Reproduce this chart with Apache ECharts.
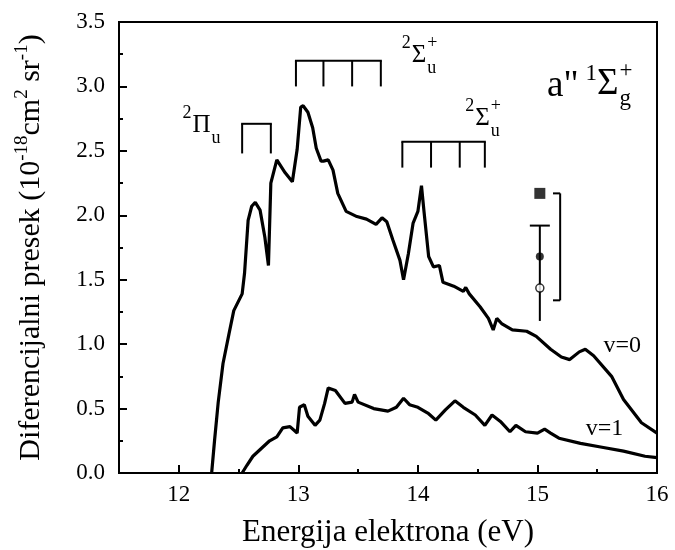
<!DOCTYPE html>
<html>
<head>
<meta charset="utf-8">
<script src="https://cdn.jsdelivr.net/npm/echarts@6/dist/echarts.min.js"></script>
<style>
html, body { margin: 0; background: #fff; }
#main { width: 675px; height: 550px; }
</style>
</head>
<body>
<div id="main"></div>
<script>
// v=0 and v=1 curves, [energy eV, cross section]
var v0 = [[12.275,0],[12.30,0.26],[12.33,0.55],[12.37,0.85],[12.42,1.08],[12.46,1.26],[12.53,1.39],
    [12.55,1.55],[12.58,1.96],[12.61,2.07],[12.64,2.10],[12.68,2.04],[12.72,1.83],[12.75,1.61],
    [12.77,2.25],[12.82,2.43],[12.89,2.33],[12.95,2.26],[12.99,2.51],[13.02,2.84],[13.04,2.85],
    [13.08,2.80],[13.12,2.68],[13.15,2.52],[13.19,2.42],[13.21,2.42],[13.25,2.43],[13.29,2.35],
    [13.33,2.17],[13.40,2.03],[13.49,1.99],[13.57,1.97],[13.65,1.93],[13.70,1.98],[13.74,1.95],
    [13.79,1.81],[13.85,1.65],[13.88,1.50],[13.92,1.70],[13.96,1.94],[14.00,2.03],[14.03,2.23],
    [14.05,2.04],[14.09,1.68],[14.13,1.60],[14.18,1.61],[14.21,1.48],[14.30,1.45],[14.38,1.41],
    [14.40,1.44],[14.43,1.39],[14.52,1.29],[14.59,1.20],[14.63,1.11],[14.66,1.20],[14.70,1.16],
    [14.79,1.11],[14.91,1.10],[14.99,1.06],[15.11,0.96],[15.20,0.90],[15.27,0.88],[15.35,0.94],
    [15.40,0.96],[15.47,0.91],[15.62,0.75],[15.72,0.57],[15.87,0.39],[16.00,0.31]];
var v1 = [[12.53,0],[12.57,0.06],[12.62,0.13],[12.69,0.19],[12.76,0.25],[12.82,0.28],[12.87,0.35],
    [12.93,0.36],[12.99,0.31],[13.01,0.51],[13.05,0.53],[13.08,0.44],[13.14,0.37],[13.18,0.41],
    [13.22,0.54],[13.25,0.66],[13.31,0.64],[13.39,0.54],[13.45,0.55],[13.47,0.61],[13.50,0.55],
    [13.63,0.50],[13.75,0.48],[13.82,0.51],[13.88,0.58],[13.93,0.53],[14.00,0.51],[14.09,0.46],
    [14.15,0.41],[14.23,0.49],[14.31,0.56],[14.38,0.51],[14.48,0.45],[14.56,0.37],[14.62,0.45],
    [14.69,0.40],[14.77,0.32],[14.82,0.37],[14.90,0.32],[15.00,0.31],[15.06,0.34],[15.11,0.31],
    [15.18,0.27],[15.36,0.23],[15.54,0.20],[15.72,0.17],[15.90,0.13],[16.00,0.12]];

var xMajor = [12, 13, 14, 15, 16];
var xMinor = [12.5, 13.5, 14.5, 15.5];

// progression brackets
var bracketTicks = [[12.53, 12.77], [12.98, 13.21, 13.45, 13.69], [13.87, 14.11, 14.35, 14.56]];
var bracketTop = [2.71, 3.20, 2.57];
var bracketBottom = [2.48, 3.00, 2.37];

// resonance term labels
var termX = [12.19, 14.01, 14.54];
var termY = [2.70, 3.24, 2.75];
var termSym = ['Π', 'Σ', 'Σ'];
var termSup = ['', '+', '+'];

// error bar and normalisation points
var errX = [15.02];
var errHi = [1.92];
var errLo = [1.18];
var squarePts = [[15.02, 2.17]];
var dotPts = [[15.02, 1.68]];
var openPts = [[15.02, 1.435]];
var rangeX = [15.13, 15.19];
var rangeY = [1.34, 2.17];

var curveNames = ['v=0', 'v=1'];
var curveLabX = [15.71, 15.56];
var curveLabY = [0.985, 0.345];

var stateX = [15.08];
var stateY = [3.02];

var FONT = '"Liberation Serif", "Times New Roman", serif';
var ctx = document.createElement('canvas').getContext('2d');
function textW(s, size) {
    ctx.font = size + 'px ' + FONT;
    return ctx.measureText(s).width;
}
function txt(x, y, s, size, align) {
    return {
        type: 'text', x: x, y: y,
        style: { text: s, fill: '#000', fontSize: size, fontFamily: FONT, align: align, verticalAlign: 'middle' }
    };
}
function seg(x1, y1, x2, y2) {
    return { type: 'line', shape: { x1: x1, y1: y1, x2: x2, y2: y2 }, style: { stroke: '#000', lineWidth: 2 } };
}

function renderBracket(params, api) {
    var i = params.dataIndex;
    var xs = bracketTicks[i];
    var top = api.coord([xs[0], bracketTop[i]])[1];
    var bot = api.coord([xs[0], bracketBottom[i]])[1];
    var px = xs.map(function(x) { return api.coord([x, 0])[0]; });
    var kids = [seg(px[0] - 1, top, px[px.length - 1] + 1, top)];
    px.forEach(function(p) { kids.push(seg(p, top, p, bot)); });
    return { type: 'group', children: kids };
}

function renderTerm(params, api) {
    var i = params.dataIndex;
    var p = api.coord([termX[i], termY[i]]);
    var w = textW(termSym[i], 25);
    var kids = [
        txt(p[0] - w / 2 - 1, p[1] - 12, '2', 18, 'right'),
        txt(p[0], p[1], termSym[i], 25, 'center'),
        txt(p[0] + w / 2 + 1, p[1] + 13, 'u', 18, 'left')
    ];
    if (termSup[i]) kids.push(txt(p[0] + w / 2 + 1, p[1] - 12, termSup[i], 18, 'left'));
    return { type: 'group', children: kids };
}

function renderState(params, api) {
    var p = api.coord([stateX[0], stateY[0]]);
    var x = p[0], y = p[1];
    var kids = [];
    kids.push(txt(x, y + 2, 'a"', 37, 'left'));
    x += textW('a"', 37) + 7;
    kids.push(txt(x, y - 10, '1', 23, 'left'));
    x += textW('1', 23);
    kids.push(txt(x, y, 'Σ', 37, 'left'));
    x += textW('Σ', 37) + 1;
    kids.push(txt(x, y - 13, '+', 23, 'left'));
    kids.push(txt(x, y + 15, 'g', 23, 'left'));
    return { type: 'group', children: kids };
}

function renderErr(params, api) {
    var top = api.coord([errX[0], errHi[0]]);
    var bot = api.coord([errX[0], errLo[0]]);
    var r0 = api.coord([rangeX[0], rangeY[1]]);
    var r1 = api.coord([rangeX[1], rangeY[0]]);
    return {
        type: 'group',
        children: [
            seg(top[0], top[1], bot[0], bot[1]),
            seg(top[0] - 10, top[1], top[0] + 10, top[1]),
            seg(r0[0], r0[1], r1[0], r0[1]),
            seg(r1[0], r0[1], r1[0], r1[1]),
            seg(r1[0], r1[1], r0[0], r1[1])
        ]
    };
}

function renderCurveLab(params, api) {
    var i = params.dataIndex;
    var p = api.coord([curveLabX[i], curveLabY[i]]);
    return txt(p[0], p[1], curveNames[i], 24, 'center');
}

var chart = echarts.init(document.getElementById('main'));
var option = {
    animation: false,
    backgroundColor: '#fff',
    grid: {
        left: 119, right: 18, top: 22, bottom: 77,
        outerBoundsMode: 'none', containLabel: false,
        show: true, borderColor: '#000', borderWidth: 2, backgroundColor: 'transparent'
    },
    xAxis: [{
        type: 'value', min: 11.5, max: 16,
        name: 'Energija elektrona (eV)',
        nameLocation: 'middle', nameGap: 44,
        nameTextStyle: { fontFamily: FONT, fontSize: 31, color: '#000' },
        axisLine: { lineStyle: { color: '#000', width: 2 } },
        axisTick: { inside: true, length: 8, customValues: xMajor, lineStyle: { color: '#000', width: 2 } },
        axisLabel: { customValues: xMajor, margin: 10, fontFamily: FONT, fontSize: 23, color: '#000' },
        splitLine: { show: false }
    }, {
        type: 'value', min: 11.5, max: 16, position: 'bottom',
        axisLine: { show: false },
        axisTick: { inside: true, length: 4, customValues: xMinor, lineStyle: { color: '#000', width: 2 } },
        axisLabel: { show: false },
        splitLine: { show: false }
    }],
    yAxis: {
        type: 'value', min: 0, max: 3.5, interval: 0.5,
        name: 'Diferencijalni presek (10{s|-18}cm{s|2} sr{s|-1})',
        nameLocation: 'middle', nameGap: 70,
        nameTextStyle: {
            fontFamily: FONT, fontSize: 30, color: '#000', lineHeight: 36,
            rich: {
                s: { fontFamily: FONT, fontSize: 19, color: '#000', verticalAlign: 'top', lineHeight: 19 }
            }
        },
        axisLine: { lineStyle: { color: '#000', width: 2 } },
        axisTick: { inside: true, length: 8, lineStyle: { color: '#000', width: 2 } },
        minorTick: { show: true, splitNumber: 2, length: 4, lineStyle: { color: '#000', width: 2 } },
        axisLabel: {
            margin: 14, fontFamily: FONT, fontSize: 23, color: '#000',
            formatter: function(v) { return v.toFixed(1); }
        },
        splitLine: { show: false }
    },
    series: [{
        type: 'line', data: v0, showSymbol: false, symbol: 'none',
        lineStyle: { color: '#000', width: 3.2 }, z: 3
    }, {
        type: 'line', data: v1, showSymbol: false, symbol: 'none',
        lineStyle: { color: '#000', width: 3.2 }, z: 3
    }, {
        type: 'custom', renderItem: renderBracket, silent: true,
        data: bracketTop.map(function(t, i) { return [bracketTicks[i][0], t]; })
    }, {
        type: 'custom', renderItem: renderTerm, silent: true,
        data: termX.map(function(x, i) { return [x, termY[i]]; })
    }, {
        type: 'custom', renderItem: renderState, silent: true,
        data: [[stateX[0], stateY[0]]]
    }, {
        type: 'custom', renderItem: renderErr, silent: true,
        data: [[errX[0], errHi[0]]]
    }, {
        type: 'custom', renderItem: renderCurveLab, silent: true,
        data: curveLabX.map(function(x, i) { return [x, curveLabY[i]]; })
    }, {
        type: 'scatter', data: squarePts, symbol: 'rect', symbolSize: 11,
        itemStyle: { color: '#000' }, z: 5
    }, {
        type: 'scatter', data: dotPts, symbol: 'circle', symbolSize: 8,
        itemStyle: { color: '#000' }, z: 5
    }, {
        type: 'scatter', data: openPts, symbol: 'circle', symbolSize: 8,
        itemStyle: { color: '#fff', borderColor: '#000', borderWidth: 1.5 }, z: 5
    }]
};
chart.setOption(option);
</script>
</body>
</html>
